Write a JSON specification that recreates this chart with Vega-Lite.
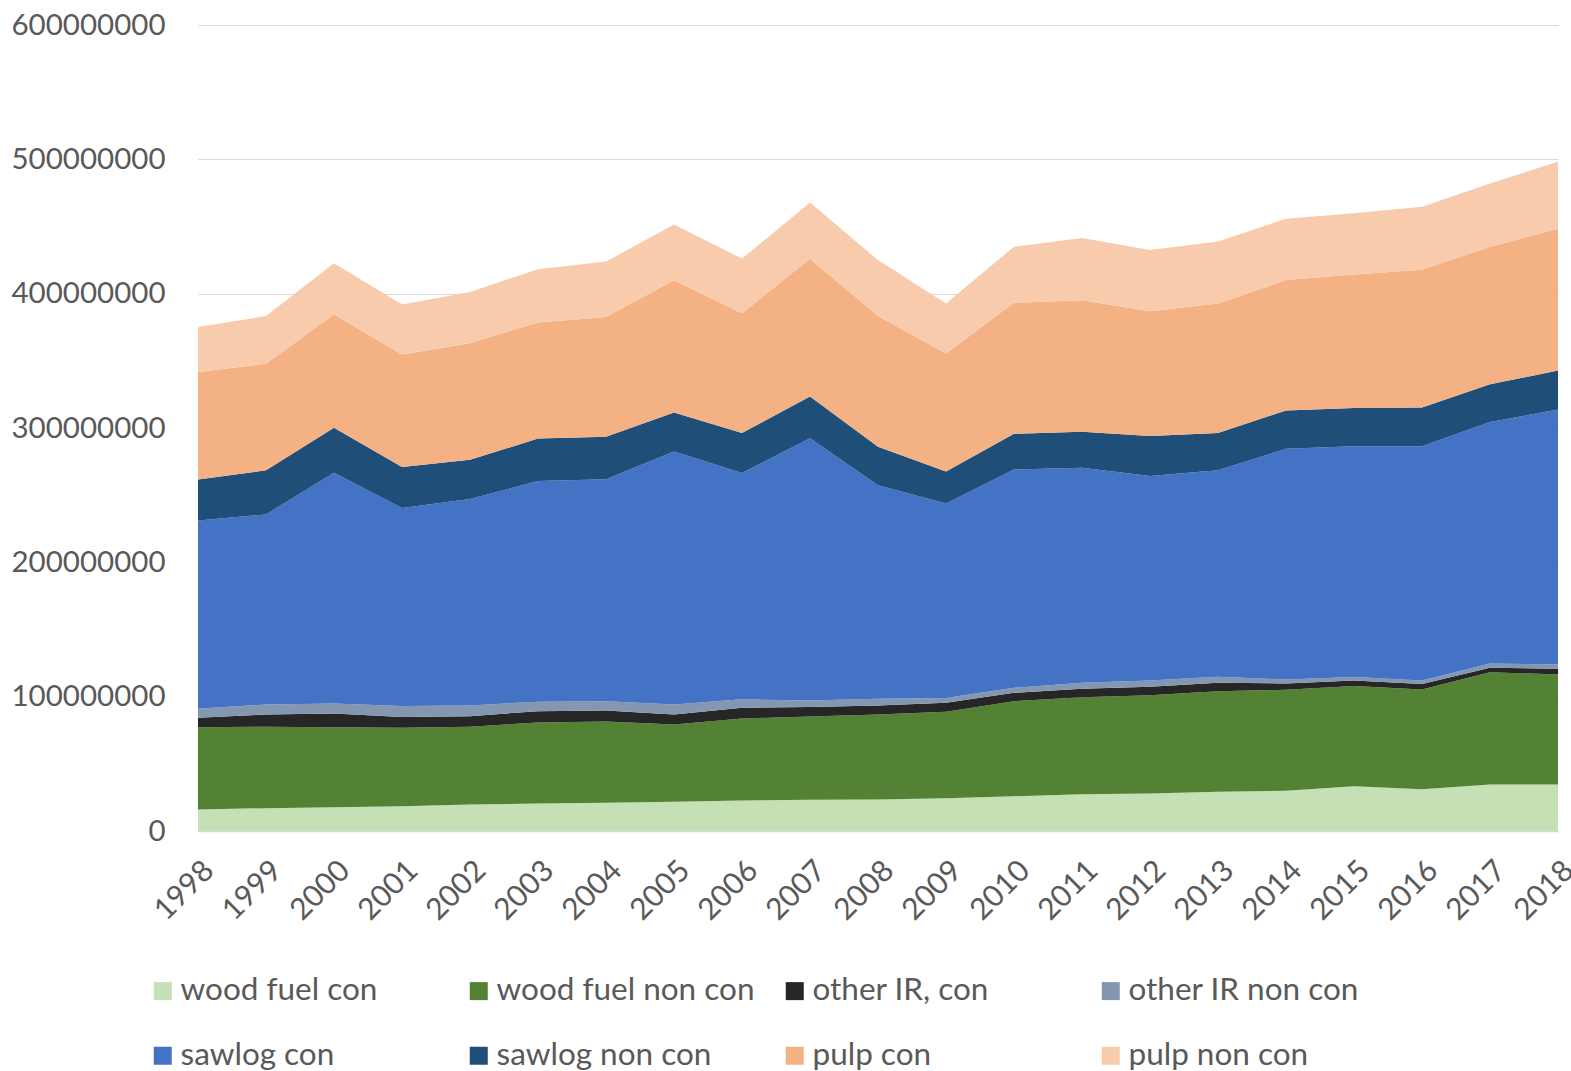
{
  "$schema": "https://vega.github.io/schema/vega-lite/v6.json",
  "width": 1360,
  "height": 806,
  "autosize": {"type": "none"},
  "padding": {"left": 198, "top": 25, "right": 13, "bottom": 240},
  "background": "white",
  "config": {
    "view": {"stroke": null},
    "font": "Lato",
    "axis": {"labelFont": "Lato", "labelColor": "#595959"},
    "legend": {"labelFont": "Lato"}
  },
  "data": {"values": [
    {"year":"1998","type":"wood fuel con","value":16000000},{"year":"1998","type":"wood fuel non con","value":61300000},{"year":"1998","type":"other IR, con","value":7000000},{"year":"1998","type":"other IR non con","value":6700000},{"year":"1998","type":"sawlog con","value":140200000},{"year":"1998","type":"sawlog non con","value":30500000},{"year":"1998","type":"pulp con","value":79900000},{"year":"1998","type":"pulp non con","value":33500000},
    {"year":"1999","type":"wood fuel con","value":17000000},{"year":"1999","type":"wood fuel non con","value":60600000},{"year":"1999","type":"other IR, con","value":9200000},{"year":"1999","type":"other IR non con","value":7400000},{"year":"1999","type":"sawlog con","value":141500000},{"year":"1999","type":"sawlog non con","value":32800000},{"year":"1999","type":"pulp con","value":79400000},{"year":"1999","type":"pulp non con","value":35400000},
    {"year":"2000","type":"wood fuel con","value":17700000},{"year":"2000","type":"wood fuel non con","value":59600000},{"year":"2000","type":"other IR, con","value":10200000},{"year":"2000","type":"other IR non con","value":7400000},{"year":"2000","type":"sawlog con","value":171800000},{"year":"2000","type":"sawlog non con","value":33500000},{"year":"2000","type":"pulp con","value":84400000},{"year":"2000","type":"pulp non con","value":38000000},
    {"year":"2001","type":"wood fuel con","value":18500000},{"year":"2001","type":"wood fuel non con","value":58400000},{"year":"2001","type":"other IR, con","value":7900000},{"year":"2001","type":"other IR non con","value":8200000},{"year":"2001","type":"sawlog con","value":147400000},{"year":"2001","type":"sawlog non con","value":30500000},{"year":"2001","type":"pulp con","value":83900000},{"year":"2001","type":"pulp non con","value":37200000},
    {"year":"2002","type":"wood fuel con","value":19700000},{"year":"2002","type":"wood fuel non con","value":57900000},{"year":"2002","type":"other IR, con","value":7900000},{"year":"2002","type":"other IR non con","value":8000000},{"year":"2002","type":"sawlog con","value":153600000},{"year":"2002","type":"sawlog non con","value":29300000},{"year":"2002","type":"pulp con","value":86800000},{"year":"2002","type":"pulp non con","value":38000000},
    {"year":"2003","type":"wood fuel con","value":20500000},{"year":"2003","type":"wood fuel non con","value":60300000},{"year":"2003","type":"other IR, con","value":8400000},{"year":"2003","type":"other IR non con","value":7000000},{"year":"2003","type":"sawlog con","value":164300000},{"year":"2003","type":"sawlog non con","value":31600000},{"year":"2003","type":"pulp con","value":86400000},{"year":"2003","type":"pulp non con","value":39700000},
    {"year":"2004","type":"wood fuel con","value":21000000},{"year":"2004","type":"wood fuel non con","value":60500000},{"year":"2004","type":"other IR, con","value":8200000},{"year":"2004","type":"other IR non con","value":6900000},{"year":"2004","type":"sawlog con","value":165300000},{"year":"2004","type":"sawlog non con","value":31600000},{"year":"2004","type":"pulp con","value":89100000},{"year":"2004","type":"pulp non con","value":41300000},
    {"year":"2005","type":"wood fuel con","value":21700000},{"year":"2005","type":"wood fuel non con","value":57600000},{"year":"2005","type":"other IR, con","value":7400000},{"year":"2005","type":"other IR non con","value":7400000},{"year":"2005","type":"sawlog con","value":188400000},{"year":"2005","type":"sawlog non con","value":29000000},{"year":"2005","type":"pulp con","value":98500000},{"year":"2005","type":"pulp non con","value":41500000},
    {"year":"2006","type":"wood fuel con","value":22700000},{"year":"2006","type":"wood fuel non con","value":61100000},{"year":"2006","type":"other IR, con","value":8000000},{"year":"2006","type":"other IR non con","value":6200000},{"year":"2006","type":"sawlog con","value":168500000},{"year":"2006","type":"sawlog non con","value":29800000},{"year":"2006","type":"pulp con","value":89100000},{"year":"2006","type":"pulp non con","value":40700000},
    {"year":"2007","type":"wood fuel con","value":23200000},{"year":"2007","type":"wood fuel non con","value":62000000},{"year":"2007","type":"other IR, con","value":7200000},{"year":"2007","type":"other IR non con","value":4700000},{"year":"2007","type":"sawlog con","value":195300000},{"year":"2007","type":"sawlog non con","value":31000000},{"year":"2007","type":"pulp con","value":102500000},{"year":"2007","type":"pulp non con","value":41900000},
    {"year":"2008","type":"wood fuel con","value":23500000},{"year":"2008","type":"wood fuel non con","value":63300000},{"year":"2008","type":"other IR, con","value":6700000},{"year":"2008","type":"other IR non con","value":5000000},{"year":"2008","type":"sawlog con","value":158800000},{"year":"2008","type":"sawlog non con","value":28800000},{"year":"2008","type":"pulp con","value":97200000},{"year":"2008","type":"pulp non con","value":41700000},
    {"year":"2009","type":"wood fuel con","value":24400000},{"year":"2009","type":"wood fuel non con","value":64300000},{"year":"2009","type":"other IR, con","value":6700000},{"year":"2009","type":"other IR non con","value":3700000},{"year":"2009","type":"sawlog con","value":144700000},{"year":"2009","type":"sawlog non con","value":23800000},{"year":"2009","type":"pulp con","value":87900000},{"year":"2009","type":"pulp non con","value":37200000},
    {"year":"2010","type":"wood fuel con","value":25900000},{"year":"2010","type":"wood fuel non con","value":70700000},{"year":"2010","type":"other IR, con","value":6300000},{"year":"2010","type":"other IR non con","value":3700000},{"year":"2010","type":"sawlog con","value":162500000},{"year":"2010","type":"sawlog non con","value":26600000},{"year":"2010","type":"pulp con","value":97500000},{"year":"2010","type":"pulp non con","value":41700000},
    {"year":"2011","type":"wood fuel con","value":27400000},{"year":"2011","type":"wood fuel non con","value":72200000},{"year":"2011","type":"other IR, con","value":6300000},{"year":"2011","type":"other IR non con","value":4500000},{"year":"2011","type":"sawlog con","value":160100000},{"year":"2011","type":"sawlog non con","value":26800000},{"year":"2011","type":"pulp con","value":97800000},{"year":"2011","type":"pulp non con","value":46400000},
    {"year":"2012","type":"wood fuel con","value":27900000},{"year":"2012","type":"wood fuel non con","value":73200000},{"year":"2012","type":"other IR, con","value":6300000},{"year":"2012","type":"other IR non con","value":4700000},{"year":"2012","type":"sawlog con","value":152100000},{"year":"2012","type":"sawlog non con","value":29800000},{"year":"2012","type":"pulp con","value":92900000},{"year":"2012","type":"pulp non con","value":45600000},
    {"year":"2013","type":"wood fuel con","value":29200000},{"year":"2013","type":"wood fuel non con","value":74900000},{"year":"2013","type":"other IR, con","value":6300000},{"year":"2013","type":"other IR non con","value":4500000},{"year":"2013","type":"sawlog con","value":153600000},{"year":"2013","type":"sawlog non con","value":27800000},{"year":"2013","type":"pulp con","value":96400000},{"year":"2013","type":"pulp non con","value":46200000},
    {"year":"2014","type":"wood fuel con","value":29900000},{"year":"2014","type":"wood fuel non con","value":75200000},{"year":"2014","type":"other IR, con","value":4700000},{"year":"2014","type":"other IR non con","value":3000000},{"year":"2014","type":"sawlog con","value":171800000},{"year":"2014","type":"sawlog non con","value":28500000},{"year":"2014","type":"pulp con","value":97000000},{"year":"2014","type":"pulp non con","value":45700000},
    {"year":"2015","type":"wood fuel con","value":33400000},{"year":"2015","type":"wood fuel non con","value":74500000},{"year":"2015","type":"other IR, con","value":4200000},{"year":"2015","type":"other IR non con","value":2500000},{"year":"2015","type":"sawlog con","value":171800000},{"year":"2015","type":"sawlog non con","value":28500000},{"year":"2015","type":"pulp con","value":99300000},{"year":"2015","type":"pulp non con","value":45600000},
    {"year":"2016","type":"wood fuel con","value":31100000},{"year":"2016","type":"wood fuel non con","value":74200000},{"year":"2016","type":"other IR, con","value":4200000},{"year":"2016","type":"other IR non con","value":2500000},{"year":"2016","type":"sawlog con","value":174500000},{"year":"2016","type":"sawlog non con","value":28800000},{"year":"2016","type":"pulp con","value":102500000},{"year":"2016","type":"pulp non con","value":46900000},
    {"year":"2017","type":"wood fuel con","value":34600000},{"year":"2017","type":"wood fuel non con","value":83600000},{"year":"2017","type":"other IR, con","value":3300000},{"year":"2017","type":"other IR non con","value":3200000},{"year":"2017","type":"sawlog con","value":179700000},{"year":"2017","type":"sawlog non con","value":28100000},{"year":"2017","type":"pulp con","value":102500000},{"year":"2017","type":"pulp non con","value":47100000},
    {"year":"2018","type":"wood fuel con","value":34600000},{"year":"2018","type":"wood fuel non con","value":81900000},{"year":"2018","type":"other IR, con","value":4200000},{"year":"2018","type":"other IR non con","value":3200000},{"year":"2018","type":"sawlog con","value":189900000},{"year":"2018","type":"sawlog non con","value":29000000},{"year":"2018","type":"pulp con","value":105500000},{"year":"2018","type":"pulp non con","value":49900000}
  ]},
  "transform": [
    {"calculate": "indexof(['wood fuel con','wood fuel non con','other IR, con','other IR non con','sawlog con','sawlog non con','pulp con','pulp non con'], datum.type)", "as": "stackOrder"}
  ],
  "mark": {"type": "area", "interpolate": "linear"},
  "encoding": {
    "x": {
      "field": "year", "type": "ordinal",
      "scale": {"type": "point", "padding": 0},
      "axis": {
        "title": null, "labelAngle": -45, "labelFontSize": 30, "ticks": false,
        "domainColor": "#d9d9d9", "domainWidth": 1.5, "labelPadding": 24,
        "labelDx": -7, "labelDy": -3
      }
    },
    "y": {
      "field": "value", "type": "quantitative", "stack": "zero",
      "scale": {"domain": [0, 600000000], "nice": false},
      "axis": {
        "title": null, "values": [0,100000000,200000000,300000000,400000000,500000000,600000000],
        "format": "d", "labelFontSize": 29.5, "ticks": false, "domain": false,
        "gridColor": "#d9d9d9", "gridWidth": 1.2, "labelPadding": 33
      }
    },
    "color": {
      "field": "type", "type": "nominal",
      "sort": ["wood fuel con","wood fuel non con","other IR, con","other IR non con","sawlog con","sawlog non con","pulp con","pulp non con"],
      "scale": {
        "domain": ["wood fuel con","wood fuel non con","other IR, con","other IR non con","sawlog con","sawlog non con","pulp con","pulp non con"],
        "range": ["#c5e0b4","#548235","#262626","#8497b0","#4472c4","#1f4e79","#f4b183","#f8cbad"]
      },
      "legend": {
        "title": null, "orient": "none", "legendX": -51, "legendY": 950,
        "direction": "horizontal", "columns": 4, "gridAlign": "all",
        "symbolType": "square", "symbolSize": 324, "symbolStrokeWidth": 0,
        "labelFontSize": 31.5, "labelColor": "#595959", "labelOffset": 2,
        "columnPadding": 24, "rowPadding": 32, "labelLimit": 400
      }
    },
    "order": {"field": "stackOrder", "type": "quantitative", "sort": "ascending"}
  }
}
